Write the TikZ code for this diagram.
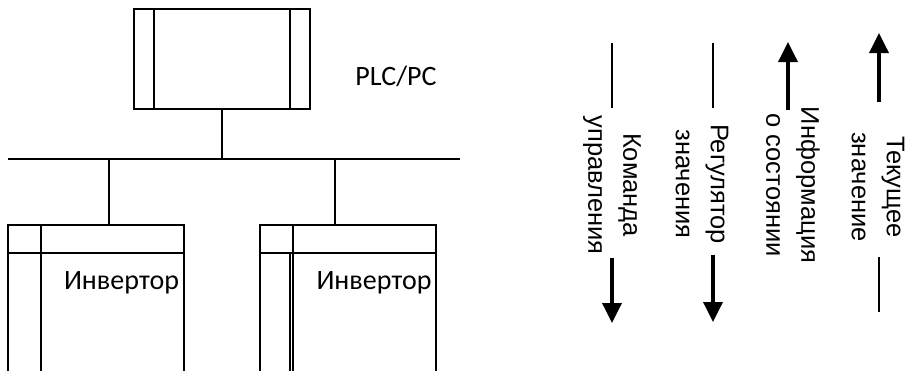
\documentclass[tikz,border=0pt]{standalone}
\usepackage{fontspec}
\setmainfont{Carlito}
\newfontfamily\sigfont{Liberation Sans}
\usetikzlibrary{arrows.meta}
\tikzset{
  unit/.style={draw, line width=2pt, rectangle, inner sep=0pt},
  link/.style={line width=1.6pt},
  sigline/.style={line width=1.4pt},
  sigarrow/.style={line width=3.6pt, -{Triangle[length=20pt,width=19pt]}},
  siglabel/.style={font=\sigfont\fontsize{25.5}{35}\selectfont, rotate=-90, align=center, inner sep=0pt},
  unitlabel/.style={font=\fontsize{28}{32}\selectfont, inner sep=0pt},
}
\begin{document}
\begin{tikzpicture}[x=1pt, y=-1pt]
    \useasboundingbox (0,0) rectangle (906,370);

    % PLC / PC unit
    \node[unit, minimum width=176pt, minimum height=100pt] (plc) at (222,59) {};
    \draw[line width=2pt] ([xshift=21pt]plc.north west) -- ([xshift=21pt]plc.south west);
    \draw[line width=2pt] ([xshift=-21pt]plc.north east) -- ([xshift=-21pt]plc.south east);
    \node[unitlabel] (plclabel) at (396,76) {PLC/PC};

    % Field bus
    \coordinate (busL) at (8,159);
    \coordinate (busR) at (460,159);
    \draw[line width=2pt] (busL) -- (busR);
    \draw[link] (plc.south) -- (plc.south |- busL);

    % Inverters (cut by the lower edge)
    \node[unit, minimum width=176pt, minimum height=170pt] (inva) at (96,310) {};
    \node[unit, minimum width=176pt, minimum height=170pt] (invb) at (348,310) {};
    \foreach \inv in {inva, invb} {
        \draw[line width=2pt] ([yshift=-29pt]\inv.north west) -- ([yshift=-29pt]\inv.north east);
        \draw[line width=2pt] ([xshift=34pt]\inv.north west) -- ([xshift=34pt]\inv.south west);
    }
    \draw[link] ([xshift=13pt]inva.north) -- ([xshift=13pt]inva.north |- busL);
    \draw[link] ([xshift=-13pt]invb.north) -- ([xshift=-13pt]invb.north |- busL);
    \draw[line width=1.2pt] ([xshift=31pt,yshift=-29pt]invb.north west) -- ([xshift=31pt]invb.south west);
    \node[unitlabel] (invalabel) at (121.5,283) {Инвертор};
    \node[unitlabel] (invblabel) at (374,283) {Инвертор};

    % Signals
    \node[siglabel] (cmd) at (612,185) {Команда\\управления};
    \node[siglabel] (set) at (702,184) {Регулятор\\значения};
    \node[siglabel] (stat) at (793,185) {Информация\\о состоянии};
    \node[siglabel] (act) at (878,187) {Текущее\\значение};

    \coordinate (cmdtop) at (612,43);
    \coordinate (cmdend) at (612,323);
    \draw[sigline] (cmdtop) -- (cmdtop |- 0,108);
    \draw[sigarrow] (612,258) -- (cmdend);

    \coordinate (settop) at (713,43);
    \coordinate (setend) at (713,322);
    \draw[sigline] (settop) -- (settop |- 0,108);
    \draw[sigarrow] (713,255) -- (setend);

    \coordinate (statend) at (788,42);
    \draw[sigarrow] (788,110) -- (statend);

    \coordinate (actend) at (879,33);
    \coordinate (actbot) at (879,312);
    \draw[sigarrow] (879,102) -- (actend);
    \draw[sigline] (879,257) -- (actbot);
\end{tikzpicture}
\end{document}
